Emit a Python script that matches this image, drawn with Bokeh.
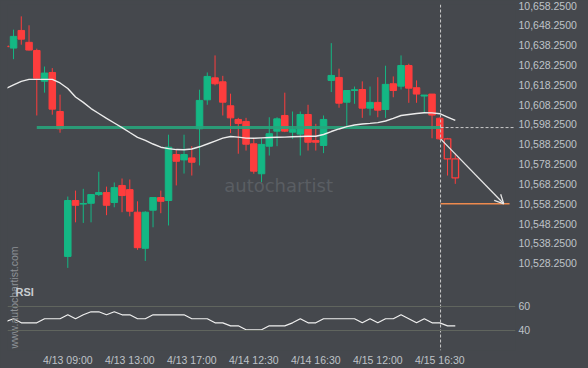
import math
from bokeh.plotting import figure
from bokeh.models import (Range1d, LinearAxis, FixedTicker, NumeralTickFormatter,
                          Span, Label, Arrow, OpenHead, ColumnDataSource)
from bokeh.embed import file_html
from bokeh.resources import INLINE

# ---------------- data ----------------
opens = [10637.8, 10636.8, 10645.7, 10639.7, 10635.6, 10620.1, 10624.5, 10604.8, 10531.7, 10559.9,
         10558.1, 10558.5, 10562.9, 10563.9, 10558.9, 10567.5, 10565.4, 10554.0, 10535.8, 10555.0,
         10561.4, 10559.9, 10583.1, 10580.4, 10581.4, 10596.1, 10610.7, 10621.8, 10619.8, 10607.7,
         10600.8, 10599.8, 10588.5, 10573.4, 10587.3, 10594.9, 10602.8, 10594.4, 10593.4, 10603.3,
         10590.2, 10587.7, 10620.5, 10622.0, 10609.5, 10615.4, 10615.9, 10606.5, 10609.4, 10605.8,
         10618.8, 10617.6, 10628.0, 10616.8, 10612.6, 10613.6, 10601.4, 10591.0, 10580.9]
highs = [10638.0, 10646.1, 10652.8, 10648.3, 10636.5, 10627.5, 10626.7, 10613.3, 10561.9, 10564.9,
         10565.8, 10563.2, 10574.4, 10566.9, 10569.0, 10571.0, 10570.5, 10559.5, 10554.5, 10561.4,
         10564.9, 10593.1, 10585.5, 10593.1, 10587.3, 10615.8, 10624.5, 10633.1, 10622.8, 10613.8,
         10601.6, 10601.6, 10591.2, 10591.3, 10601.9, 10601.9, 10614.3, 10604.8, 10604.8, 10608.2,
         10598.6, 10602.8, 10639.3, 10626.4, 10615.4, 10617.4, 10620.0, 10617.4, 10622.1, 10627.9,
         10622.5, 10633.1, 10628.9, 10620.5, 10613.1, 10613.6, 10601.8, 10591.5, 10583.6]
lows = [10637.3, 10631.2, 10638.5, 10635.6, 10602.8, 10614.3, 10603.2, 10594.1, 10525.9, 10548.9,
        10548.6, 10548.9, 10562.2, 10552.5, 10556.5, 10554.0, 10551.9, 10535.0, 10529.4, 10546.4,
        10553.5, 10547.3, 10567.5, 10573.5, 10572.5, 10577.6, 10608.2, 10618.0, 10602.8, 10593.9,
        10583.5, 10585.1, 10573.4, 10569.1, 10582.6, 10587.3, 10594.4, 10591.0, 10582.6, 10585.1,
        10585.1, 10583.8, 10614.6, 10606.7, 10596.4, 10608.7, 10601.6, 10602.8, 10601.9, 10601.6,
        10612.0, 10615.9, 10609.2, 10609.2, 10604.0, 10591.3, 10590.5, 10572.5, 10568.3]
closes = [10637.5, 10642.7, 10641.3, 10635.8, 10621.6, 10624.2, 10606.0, 10596.1, 10559.9, 10557.5,
          10558.4, 10562.9, 10563.9, 10557.5, 10566.4, 10562.4, 10554.5, 10536.1, 10554.0, 10561.4,
          10559.5, 10586.8, 10579.7, 10583.1, 10579.2, 10610.4, 10622.5, 10618.8, 10609.5, 10601.6,
          10598.8, 10588.3, 10574.7, 10588.2, 10593.6, 10601.1, 10594.9, 10595.7, 10603.3, 10589.3,
          10589.3, 10600.8, 10623.0, 10609.0, 10615.4, 10615.8, 10606.5, 10609.4, 10605.5, 10618.5,
          10615.4, 10628.0, 10616.6, 10613.6, 10613.1, 10603.0, 10591.0, 10580.9, 10571.3]
moving_avg = [10616.4, 10618.2, 10620.0, 10621.0, 10621.0, 10621.0, 10621.0, 10619.2, 10616.4, 10612.1,
              10609.4, 10606.3, 10603.8, 10601.3, 10599.0, 10596.7, 10594.2, 10591.8, 10590.2, 10588.4,
              10586.8, 10586.1, 10585.6, 10585.5, 10585.9, 10587.0, 10588.4, 10589.9, 10591.4, 10592.2,
              10591.9, 10591.4, 10591.3, 10591.5, 10591.7, 10591.8, 10591.9, 10592.1, 10592.2, 10592.3,
              10592.3, 10593.2, 10594.7, 10596.0, 10597.2, 10598.0, 10598.5, 10598.8, 10599.2, 10600.0,
              10601.3, 10602.8, 10603.3, 10603.8, 10604.2, 10604.1, 10603.7, 10602.0, 10600.3]
rsi_values = [47.5, 49.8, 46.4, 46.4, 46.4, 49.8, 49.8, 49.8, 53.1, 49.8,
              53.1, 55.6, 55.6, 53.1, 55.6, 53.1, 53.1, 49.8, 49.8, 53.1,
              53.1, 53.1, 53.1, 53.1, 49.8, 49.8, 49.8, 46.4, 46.4, 43.9,
              43.9, 40.6, 40.6, 40.6, 43.9, 43.9, 43.9, 46.4, 49.8, 46.4,
              46.4, 49.8, 49.8, 49.8, 49.8, 49.8, 46.4, 49.8, 46.4, 49.8,
              49.8, 53.1, 49.8, 46.4, 49.8, 46.4, 46.4, 43.9, 43.9]

time_tick_index = [8, 16, 24, 32, 40, 48, 56]
time_tick_labels = ["4/13 09:00", "4/13 13:00", "4/13 17:00", "4/14 12:30",
                    "4/14 16:30", "4/15 12:00", "4/15 16:30"]
price_ticks = [10528.25, 10538.25, 10548.25, 10558.25, 10568.25, 10578.25, 10588.25,
               10598.25, 10608.25, 10618.25, 10628.25, 10638.25, 10648.25, 10658.25]
rsi_ticks = [60, 40]

# pattern / forecast
signal_index = 56
signal_x = 56.1
support_start = 4
support_level = 10596.7
arrow_start_level = 10591.0
target_level = 10558.25
arrow_end_x = 64.25
target_end_x = 65.0

# ---------------- styling ----------------
BG = "#45484d"
GREEN = "#14b784"
RED = "#fd3d3d"
TXT = "#bfc3c8"
FONT = "Liberation Sans"

X0, X1 = 0.22, 65.77
P0, P1 = 10484.23, 10658.79
R0, R1 = 23.33, 311.67

p = figure(width=588, height=368,
           x_range=Range1d(X0, X1), y_range=Range1d(P0, P1),
           output_backend="svg", toolbar_location=None,
           x_axis_location=None, y_axis_location=None,
           min_border_left=7, min_border_top=4, min_border_right=73, min_border_bottom=18,
           background_fill_color=BG, border_fill_color=BG, outline_line_color=None)
p.extra_y_ranges = {"rsi": Range1d(R0, R1)}
p.grid.visible = False

try:
    from bokeh.models import GlobalInlineStyleSheet
    p.stylesheets = [GlobalInlineStyleSheet(css="html, body { background-color: %s; }" % BG)]
except Exception:
    pass


def rsi_on_price_axis(v):
    # position of an RSI level on the shared right-hand axis (same frame, two ranges)
    return P0 + (v - R0) * (P1 - P0) / (R1 - R0)


rsi_tick_pos = [rsi_on_price_axis(v) for v in rsi_ticks]

# axes
yax = LinearAxis(ticker=FixedTicker(ticks=price_ticks + rsi_tick_pos),
                 formatter=NumeralTickFormatter(format="0,0.0000"),
                 major_label_overrides={pos: str(v) for pos, v in zip(rsi_tick_pos, rsi_ticks)})
xax = LinearAxis(ticker=FixedTicker(ticks=time_tick_index),
                 major_label_overrides={i: s for i, s in zip(time_tick_index, time_tick_labels)})
for ax, standoff in ((yax, 3), (xax, 3)):
    ax.axis_line_color = None
    ax.major_tick_line_color = None
    ax.minor_tick_line_color = None
    ax.major_tick_out = 0
    ax.major_tick_in = 0
    ax.major_label_standoff = standoff
    ax.major_label_text_color = TXT
    ax.major_label_text_font = FONT
    ax.major_label_text_font_size = "10.5px"
p.add_layout(yax, "right")
p.add_layout(xax, "below")

# watermarks
p.add_layout(Label(x=35.2, y=10567.5, text="autochartist", text_color="#5a5e63",
                   text_font="DejaVu Sans", text_font_size="18px",
                   text_align="center", text_baseline="middle"))
p.add_layout(Label(x=1.03, y=67.5, y_range_name="rsi", text="www.autochartist.com",
                   angle=math.pi / 2, text_color="#8d9196", text_font=FONT,
                   text_font_size="10.5px", text_align="center", text_baseline="middle"))

# candles
n = len(opens)
idx = list(range(n))
src = dict(x=idx, o=opens, h=highs, l=lows, c=closes,
           top=[max(a, b) for a, b in zip(opens, closes)],
           bottom=[min(a, b) for a, b in zip(opens, closes)],
           color=[GREEN if c >= o else RED for o, c in zip(opens, closes)])
solid = ColumnDataSource({k: [v[i] for i in idx if i <= signal_index] for k, v in src.items()})
hollow = ColumnDataSource({k: [v[i] for i in idx if i > signal_index] for k, v in src.items()})

p.segment(x0="x", y0="l", x1="x", y1="h", color="color", line_width=1, source=solid)
p.vbar(x="x", top="top", bottom="bottom", width=0.84, fill_color="color",
       line_color="color", line_width=1, source=solid)
p.segment(x0="x", y0="l", x1="x", y1="bottom", color="color", line_width=1, source=hollow)
p.segment(x0="x", y0="top", x1="x", y1="h", color="color", line_width=1, source=hollow)
p.vbar(x="x", top="top", bottom="bottom", width=0.84, fill_alpha=0,
       line_color="color", line_width=1.3, source=hollow)

# support line + forecast
p.segment(x0=[support_start], y0=[support_level], x1=[signal_x], y1=[support_level],
          line_color="#27a37b", line_width=3, line_alpha=0.9)
p.segment(x0=[signal_x], y0=[support_level], x1=[X1], y1=[support_level],
          line_color="#c9c9c9", line_width=1, line_dash="3 2")
p.line(idx, moving_avg, line_color="#ececec", line_width=1.4)
p.segment(x0=[signal_x], y0=[target_level], x1=[target_end_x], y1=[target_level],
          line_color="#ee8a4e", line_width=1.5)
p.add_layout(Arrow(end=OpenHead(size=9, line_color="#e6e6e6", line_width=1.3),
                   x_start=signal_x, y_start=arrow_start_level,
                   x_end=arrow_end_x, y_end=target_level,
                   line_color="#e6e6e6", line_width=1.3))
p.add_layout(Span(location=signal_x, dimension="height", line_color="#c9c9c9",
                  line_width=1, line_dash="3 2"))

# RSI panel
for t in rsi_ticks:
    p.add_layout(Span(location=t, dimension="width", y_range_name="rsi",
                      line_color="#61665f", line_width=1))
p.line(idx, rsi_values, y_range_name="rsi", line_color="#f0f0f0", line_width=1.2)
p.add_layout(Label(x=1.25, y=72.1, y_range_name="rsi", text="RSI", text_color="#c8ccd0",
                   text_font=FONT, text_font_size="11px", text_font_style="bold",
                   text_align="left", text_baseline="middle"))

open("out.html", "w").write(file_html(p, INLINE))
